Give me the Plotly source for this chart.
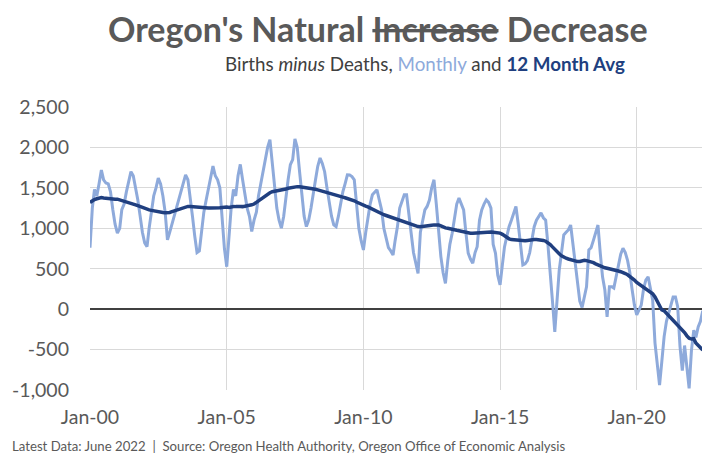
import pandas as pd
import plotly.graph_objects as go

# Aylik dogum eksi olum, Oregon (Ocak 2000 - Haziran 2022)
monthly = [
    760, 1250, 1480, 1400, 1550, 1720, 1600, 1560, 1550, 1450, 1230, 1050,   # 2000
    940, 1000, 1230, 1300, 1450, 1600, 1700, 1650, 1500, 1350, 1150, 950,    # 2001
    820, 773, 1000, 1228, 1400, 1500, 1620, 1550, 1400, 1200, 856, 950,      # 2002
    1050, 1150, 1250, 1350, 1450, 1550, 1660, 1600, 1400, 1150, 900, 700,    # 2003
    720, 1000, 1200, 1350, 1500, 1650, 1770, 1650, 1600, 1500, 1100, 750,    # 2004
    525, 900, 1250, 1480, 1400, 1650, 1790, 1600, 1400, 1250, 1145, 960,     # 2005
    1100, 1200, 1400, 1550, 1700, 1850, 2000, 2097, 1800, 1500, 1250, 1100,  # 2006
    1001, 1150, 1400, 1600, 1787, 1850, 2105, 2000, 1700, 1400, 1150, 1021,  # 2007
    1100, 1250, 1450, 1600, 1766, 1870, 1800, 1700, 1500, 1300, 1150, 1042,  # 2008
    1021, 1150, 1300, 1450, 1550, 1662, 1660, 1640, 1600, 1300, 1000, 850,   # 2009
    732, 950, 1150, 1300, 1414, 1440, 1476, 1350, 1228, 1000, 856, 760,      # 2010
    720, 670, 850, 1021, 1250, 1350, 1414, 1414, 1200, 939, 700, 550,        # 2011
    443, 950, 1100, 1228, 1270, 1350, 1500, 1600, 1300, 939, 650, 450,       # 2012
    319, 600, 800, 939, 1150, 1300, 1373, 1300, 1228, 950, 693, 620,         # 2013
    567, 700, 773, 1100, 1228, 1300, 1352, 1320, 1250, 800, 690, 420,        # 2014
    300, 550, 770, 900, 1020, 1100, 1200, 1270, 1050, 800, 546, 560,         # 2015
    600, 700, 850, 1020, 1100, 1150, 1190, 1130, 1100, 800, 480, 100,        # 2016
    -280, 150, 480, 700, 918, 950, 980, 1040, 800, 570, 300, 100,            # 2017
    20, 150, 277, 732, 760, 850, 950, 1040, 690, 400, 236, -95,              # 2018
    277, 277, 260, 400, 567, 680, 753, 700, 600, 450, 236, 50,               # 2019
    -70, 0, 50, 250, 360, 400, 250, 110, -420, -700, -940, -650,             # 2020
    -340, -150, -50, 50, 150, 150, 30, -460, -760, -450, -700, -980,         # 2021
    -510, -260, -350, -220, -150, -20,                                       # 2022
]

# 12 aylik ortalama
avg12 = [
    1320, 1340, 1355, 1365, 1375, 1380, 1375, 1370, 1365, 1360, 1362, 1360,  # 2000
    1360, 1352, 1345, 1338, 1330, 1320, 1310, 1300, 1290, 1280, 1268, 1255,  # 2001
    1245, 1235, 1228, 1222, 1215, 1210, 1205, 1200, 1195, 1192, 1190, 1195,  # 2002
    1205, 1215, 1225, 1235, 1245, 1258, 1268, 1270, 1268, 1265, 1262, 1258,  # 2003
    1255, 1252, 1250, 1248, 1250, 1252, 1250, 1248, 1250, 1254, 1258, 1262,  # 2004
    1262, 1258, 1265, 1270, 1268, 1272, 1270, 1268, 1272, 1278, 1284, 1290,  # 2005
    1300, 1320, 1345, 1370, 1390, 1410, 1425, 1440, 1452, 1456, 1458, 1462,  # 2006
    1468, 1475, 1485, 1495, 1502, 1508, 1512, 1515, 1513, 1510, 1505, 1500,  # 2007
    1495, 1492, 1488, 1482, 1475, 1466, 1458, 1448, 1438, 1428, 1418, 1410,  # 2008
    1405, 1398, 1392, 1385, 1378, 1370, 1362, 1352, 1340, 1325, 1310, 1295,  # 2009
    1285, 1275, 1265, 1250, 1235, 1220, 1205, 1192, 1180, 1168, 1158, 1148,  # 2010
    1145, 1138, 1128, 1118, 1108, 1098, 1088, 1078, 1065, 1052, 1040, 1030,  # 2011
    1021, 1018, 1020, 1024, 1028, 1032, 1038, 1042, 1044, 1042, 1030, 1012,  # 2012
    1005, 1001, 998, 990, 982, 975, 968, 960, 955, 950, 945, 940,            # 2013
    938, 940, 945, 950, 955, 958, 960, 958, 955, 952, 948, 945,              # 2014
    940, 925, 905, 885, 870, 860, 856, 858, 852, 846, 840, 845,              # 2015
    850, 856, 858, 860, 862, 860, 855, 850, 840, 825, 800, 770,              # 2016
    735, 710, 685, 660, 640, 630, 620, 610, 600, 592, 588, 590,              # 2017
    600, 605, 600, 595, 585, 575, 560, 545, 530, 520, 512, 505,              # 2018
    500, 495, 488, 480, 472, 463, 455, 440, 425, 405, 385, 360,              # 2019
    330, 310, 295, 280, 260, 240, 215, 190, 150, 100, 40, -10,               # 2020
    -20, -50, -80, -110, -140, -170, -200, -230, -250, -290, -330, -360,     # 2021
    -370, -365, -420, -450, -480, -505,                                      # 2022
]

months = pd.date_range("2000-01-01", periods=len(monthly), freq="MS")

y_ticks = [-1000, -500, 0, 500, 1000, 1500, 2000, 2500]
y_labels = ["-1,000", "-500", "0", "500", "1,000", "1,500", "2,000", "2,500"]

LIGHT = "#8eaadb"
DARK = "#203f7f"
GRAY = "#595959"
FONT = "Lato"

fig = go.Figure()
fig.add_trace(go.Scatter(
    x=months, y=monthly, mode="lines", name="Monthly",
    line=dict(color=LIGHT, width=3),
))
fig.add_trace(go.Scatter(
    x=months, y=avg12, mode="lines", name="12 Month Avg",
    line=dict(color=DARK, width=3.5),
))

# sayfa govdesinin 8px kenar boslugu icin boyut 702x449
fig.update_layout(
    width=702, height=449,
    margin=dict(l=82, r=5, t=99, b=67),
    paper_bgcolor="white", plot_bgcolor="white",
    showlegend=False,
    font=dict(family=FONT, color=GRAY),
    xaxis=dict(
        range=["2000-01-01", "2022-07-01"],
        tick0="2000-01-01", dtick="M60", tickformat="%b-%y",
        showgrid=True, gridcolor="#d9d9d9", gridwidth=1,
        zeroline=False, showline=False,
        tickfont=dict(size=19.5, color=GRAY),
        ticklabelstandoff=13,
    ),
    yaxis=dict(
        range=[-1000, 2500],
        tickvals=y_ticks, ticktext=y_labels,
        showgrid=True, gridcolor="#d9d9d9", gridwidth=1,
        zeroline=True, zerolinecolor="#404040", zerolinewidth=2,
        tickfont=dict(size=19.5, color=GRAY),
        ticklabelstandoff=20,
    ),
    annotations=[
        dict(
            text="<b>Oregon's Natural <s>Increase</s> Decrease</b>",
            xref="paper", yref="paper", x=0.468, y=1.279,
            xanchor="center", yanchor="middle", showarrow=False,
            font=dict(size=34, color=GRAY, family=FONT),
        ),
        dict(
            text=("Births <i>minus</i> Deaths, "
                  f"<span style='color:{LIGHT}'>Monthly</span> and "
                  f"<b><span style='color:{DARK}'>12 Month Avg</span></b>"),
            xref="paper", yref="paper", x=0.545, y=1.152,
            xanchor="center", yanchor="middle", showarrow=False,
            font=dict(size=18.8, color="#404040", family=FONT),
        ),
        dict(
            text="Latest Data: June 2022  |  Source: Oregon Health Authority, Oregon Office of Economic Analysis",
            xref="paper", yref="paper", x=-0.13, y=-0.198,
            xanchor="left", yanchor="middle", showarrow=False,
            font=dict(size=13.2, color=GRAY, family=FONT),
        ),
    ],
)

fig.write_html("out.html")
